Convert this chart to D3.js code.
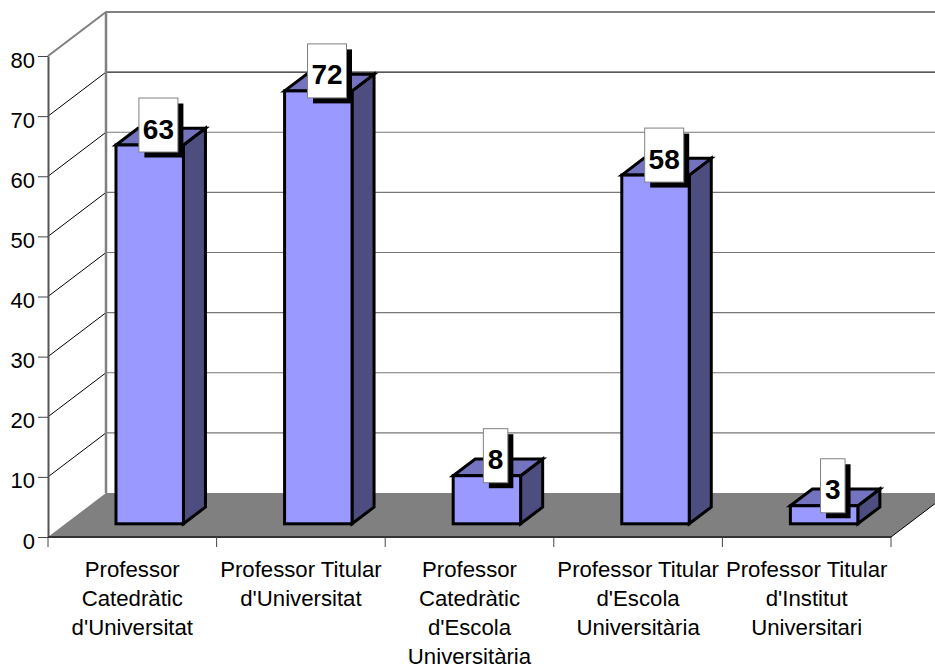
<!DOCTYPE html>
<html><head><meta charset="utf-8">
<script src="https://cdn.jsdelivr.net/npm/d3@7/dist/d3.min.js"></script>
<style>html,body{margin:0;padding:0;background:#fff}svg{display:block}text{font-family:"Liberation Sans",Arial,sans-serif}</style>
</head><body><svg id="c" width="935" height="668"></svg>
<script>
const categories = ["Professor Catedràtic d'Universitat","Professor Titular d'Universitat","Professor Catedràtic d'Escola Universitària","Professor Titular d'Escola Universitària","Professor Titular d'Institut Universitari"];
const categoryLines = [["Professor","Catedràtic","d'Universitat"],["Professor Titular","d'Universitat"],["Professor","Catedràtic","d'Escola","Universitària"],["Professor Titular","d'Escola","Universitària"],["Professor Titular","d'Institut","Universitari"]];
const values = [63,72,8,58,3];
const yTicks = [0,10,20,30,40,50,60,70,80];

const svg = d3.select("#c");
const W = 935, L = 48, R = 891, Y0 = 537, Y80 = 56;
const DX = 58, DY = -44;               // full depth of the 3D box
const x = d3.scaleBand().domain(categories).range([L,R]).paddingInner(0.6).paddingOuter(0.3);
const y = d3.scaleLinear().domain([0,80]).range([Y0,Y80]);
const front = 0.3, barD = 0.38;   // bar position in depth, as a share of DX
const poly = pts => pts.map(p=>p.join(",")).join(" ");

// side wall grid lines and back wall grid lines
const grid = svg.append("g");
grid.selectAll("line.side").data(yTicks.slice(1,-1)).join("line")
  .attr("x1",L).attr("y1",d=>y(d)).attr("x2",L+DX).attr("y2",d=>y(d)+DY)
  .attr("stroke","#000").attr("stroke-width",1);
grid.selectAll("line.back").data(yTicks.slice(1,-1)).join("line")
  .attr("x1",L+DX).attr("y1",d=>y(d)+DY).attr("x2",W).attr("y2",d=>y(d)+DY)
  .attr("stroke",d=>d===70?"#222":"#777").attr("stroke-width",1.2);

// walls frame
svg.append("polyline").attr("points",poly([[L,Y80],[L+DX,Y80+DY],[W,Y80+DY]])).attr("fill","none").attr("stroke","#808080").attr("stroke-width",2);
svg.append("line").attr("x1",L+DX).attr("y1",Y80+DY).attr("x2",L+DX).attr("y2",Y0+DY).attr("stroke","#808080").attr("stroke-width",2.5);

// floor
svg.append("polygon").attr("points",poly([[L,Y0],[L+DX,Y0+DY],[R+DX,Y0+DY],[R,Y0]])).attr("fill","#808080");
svg.append("line").attr("x1",R).attr("y1",Y0).attr("x2",R+DX).attr("y2",Y0+DY).attr("stroke","#000").attr("stroke-width",1);

// axes
const yAxis = svg.append("g").attr("transform",`translate(${L},0)`)
  .call(d3.axisLeft(y).tickValues(yTicks).tickSize(10).tickPadding(3).tickSizeOuter(0));
yAxis.select(".domain").attr("stroke","#555").attr("stroke-width",2);
yAxis.selectAll(".tick line").attr("stroke","#444").attr("stroke-width",1);
yAxis.selectAll("text").attr("font-size",22).attr("fill","#000").attr("font-family","Liberation Sans").attr("dy","0.5em");

const xEdges = d3.range(categories.length+1);
const xEdge = d3.scaleLinear().domain([0,categories.length]).range([L,R]);
svg.append("line").attr("x1",L).attr("x2",R).attr("y1",Y0).attr("y2",Y0).attr("stroke","#333").attr("stroke-width",2);
svg.selectAll("line.xt").data(xEdges).join("line").attr("class","xt")
  .attr("x1",d=>xEdge(d)).attr("x2",d=>xEdge(d)).attr("y1",Y0).attr("y2",Y0+10)
  .attr("stroke","#444").attr("stroke-width",1);

// category labels
svg.selectAll("text.cat").data(categoryLines).join("text").attr("class","cat")
  .attr("text-anchor","middle").attr("font-size",22.2).attr("fill","#000")
  .selectAll("tspan").data((d,i)=>d.map(t=>({t,i}))).join("tspan")
  .attr("x",d=>xEdge(d.i+0.5)).attr("y",(d,j)=>577+j*29).text(d=>d.t);

// bars
const ox = DX*front, oy = DY*front, sx = DX*barD, sy = DY*barD;
const bars = svg.selectAll("g.bar").data(values).join("g").attr("class","bar");
const st = s => s.attr("stroke","#000").attr("stroke-width",3).attr("stroke-linejoin","miter");
const bx = (d,i)=>x(categories[i])+ox;
st(bars.append("polygon").attr("fill","#4d4d80")
  .attr("points",(d,i)=>{const a=bx(d,i)+x.bandwidth(),b=Y0+oy,t=y(d)+oy;return poly([[a,b],[a+sx,b+sy],[a+sx,t+sy],[a,t]]);}));
st(bars.append("polygon").attr("fill","#7373bf")
  .attr("points",(d,i)=>{const a=bx(d,i),c=a+x.bandwidth(),t=y(d)+oy;return poly([[a,t],[a+sx,t+sy],[c+sx,t+sy],[c,t]]);}));
st(bars.append("rect").attr("fill","#9999ff")
  .attr("x",(d,i)=>bx(d,i)).attr("width",x.bandwidth())
  .attr("y",d=>y(d)+oy).attr("height",d=>Y0-y(d)));

// data labels
const boxW = d=>String(d).length===1?24.5:39, boxH = 54;
const cx = (d,i)=>bx(d,i)+x.bandwidth()/2+8.7;
const labels = svg.selectAll("g.lab").data(values).join("g").attr("class","lab");
labels.append("rect").attr("fill","#000")
  .attr("x",(d,i)=>cx(d,i)-boxW(d)/2+5.5).attr("y",d=>y(d)+oy-47+5.5).attr("width",boxW).attr("height",boxH);
labels.append("rect").attr("fill","#fff").attr("stroke","#808080").attr("stroke-width",1)
  .attr("x",(d,i)=>cx(d,i)-boxW(d)/2).attr("y",d=>y(d)+oy-47).attr("width",boxW).attr("height",boxH);
labels.append("text").attr("text-anchor","middle").attr("font-weight","bold").attr("font-size",28).attr("fill","#000")
  .attr("x",cx).attr("y",d=>y(d)+oy-47+40.5).text(d=>d);
</script></body></html>
